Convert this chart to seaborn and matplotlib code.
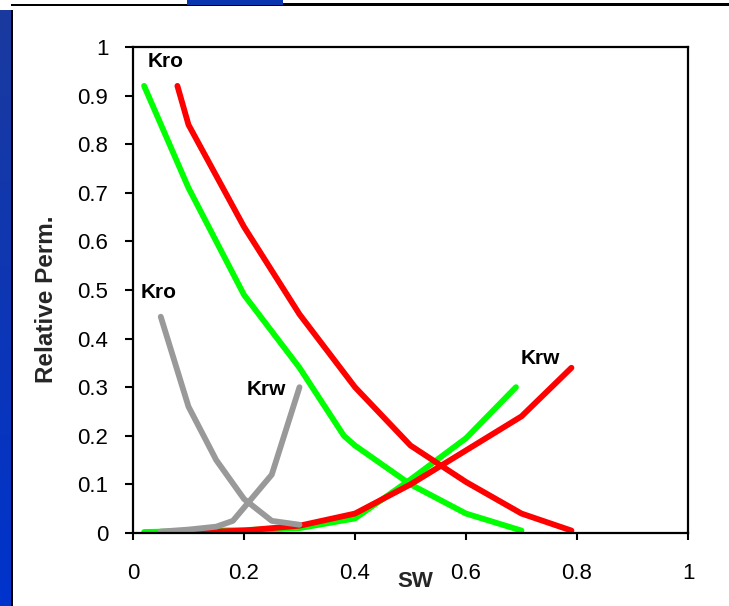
import numpy as np
import pandas as pd
import matplotlib
matplotlib.use('Agg')
import matplotlib.pyplot as plt
from matplotlib.patches import Rectangle
import seaborn as sns

# relative permeability curves
sw_kro_green = [0.02, 0.1, 0.2, 0.3, 0.38, 0.4, 0.5, 0.6, 0.7]
kro_green = [0.92, 0.71, 0.49, 0.34, 0.2, 0.18, 0.1, 0.04, 0.005]
sw_krw_green = [0.02, 0.1, 0.2, 0.3, 0.4, 0.5, 0.6, 0.69]
krw_green = [0.002, 0.004, 0.006, 0.01, 0.03, 0.11, 0.195, 0.30]

sw_kro_red = [0.08, 0.1, 0.2, 0.3, 0.4, 0.5, 0.6, 0.7, 0.79]
kro_red = [0.92, 0.84, 0.63, 0.45, 0.30, 0.18, 0.105, 0.04, 0.005]
sw_krw_red = [0.08, 0.2, 0.3, 0.4, 0.5, 0.6, 0.7, 0.79]
krw_red = [0.0, 0.005, 0.015, 0.04, 0.10, 0.17, 0.24, 0.34]

sw_kro_grey = [0.05, 0.1, 0.15, 0.2, 0.25, 0.3]
kro_grey = [0.445, 0.26, 0.15, 0.07, 0.025, 0.017]
sw_krw_grey = [0.05, 0.1, 0.15, 0.18, 0.25, 0.3]
krw_grey = [0.003, 0.007, 0.013, 0.025, 0.12, 0.30]

curves = [
    (sw_kro_green, kro_green, '#00ff00'),
    (sw_krw_green, krw_green, '#00ff00'),
    (sw_kro_red, kro_red, '#ff0000'),
    (sw_krw_red, krw_red, '#ff0000'),
    (sw_kro_grey, kro_grey, '#999999'),
    (sw_krw_grey, krw_grey, '#999999'),
]

sns.set_style('ticks')
plt.rcParams['font.family'] = ['Liberation Sans', 'DejaVu Sans']

fig = plt.figure(figsize=(7.29, 6.06), dpi=100)

# slide decoration: blue strip on the left, bits of the header on top
strip = fig.add_axes([0, 0, 11 / 729, 596 / 606])
grad = np.linspace(0, 1, 256).reshape(-1, 1)
strip.imshow(grad, aspect='auto', cmap=matplotlib.colors.LinearSegmentedColormap.from_list(
    'b', ['#0033cc', '#1a3a9e']), origin='lower')
strip.set_axis_off()
fig.patches.append(Rectangle((11 / 729, 0), 1.5 / 729, 596 / 606, transform=fig.transFigure,
                             color='black', lw=0))
fig.patches.append(Rectangle((11 / 729, 600 / 606), 1 - 11 / 729, 1.5 / 606, transform=fig.transFigure,
                             color='black', lw=0))
fig.patches.append(Rectangle((187 / 729, 601 / 606), 96 / 729, 5 / 606, transform=fig.transFigure,
                             color='#0a36b0', lw=0))
fig.patches.append(Rectangle((283 / 729, 601.5 / 606), 446 / 729, 1.2 / 606, transform=fig.transFigure,
                             color='black', lw=0))

ax = fig.add_axes([133 / 729, 73 / 606, 555 / 729, 486 / 606])
for xs, ys, c in curves:
    sns.lineplot(x=xs, y=ys, ax=ax, color=c, linewidth=4.2, sort=False,
                 solid_capstyle='round', solid_joinstyle='round')

ax.set_xlim(0, 1)
ax.set_ylim(0, 1)
ax.set_xticks(np.arange(0, 1.01, 0.2))
ax.set_xticklabels(['0', '0.2', '0.4', '0.6', '0.8', '1'])
ax.set_yticks(np.arange(0, 1.01, 0.1))
ax.set_yticklabels(['0'] + [f'{v:.1f}' for v in np.arange(0.1, 0.95, 0.1)] + ['1'])
ax.tick_params(axis='x', direction='out', length=5, width=1.5, pad=16.5, labelsize=16, colors='black')
ax.tick_params(axis='y', direction='out', length=5.8, width=1.5, pad=12, labelsize=16, colors='black')
for s in ax.spines.values():
    s.set_linewidth(1.6)
    s.set_color('black')

ax.set_xlabel('SW', fontsize=16, fontweight='bold')
ax.xaxis.set_label_coords(0.508, -0.078)
ax.set_ylabel('Relative Perm.', fontsize=17.5, fontweight='bold')
ax.yaxis.set_label_coords(-0.135, 0.48)

lab = dict(fontsize=15, fontweight='bold', ha='center', va='center', color='black')
ax.text(0.059, 0.971, 'Kro', **lab)
ax.text(0.047, 0.494, 'Kro', **lab)
ax.text(0.24, 0.296, 'Krw', **lab)
ax.text(0.733, 0.36, 'Krw', **lab)

fig.savefig('out.png', dpi=100)
